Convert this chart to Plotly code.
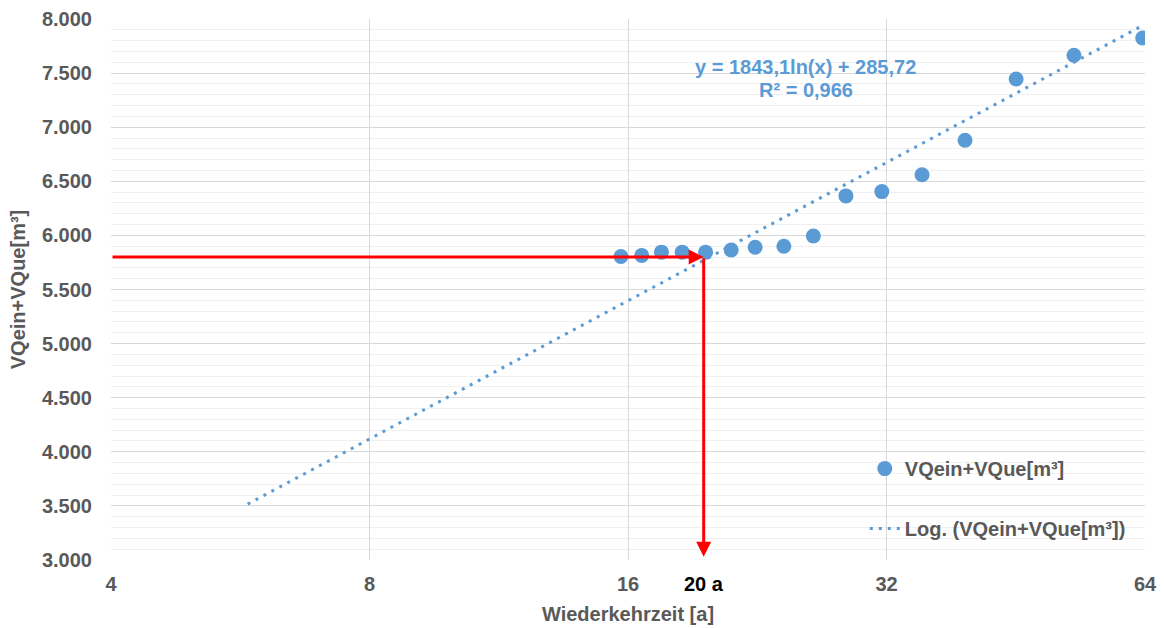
import math
import plotly.graph_objects as go

# ---- data ----
return_period = [15.7, 16.6, 17.5, 18.5, 19.7, 21.1, 22.5, 24.3, 26.3, 28.7, 31.6, 35.2, 39.5, 45.3, 52.9, 63.6]
volume = [5805, 5815, 5845, 5845, 5845, 5865, 5890, 5900, 5995, 6365, 6405, 6560, 6880, 7445, 7665, 7825]

trend_a = 1843.1
trend_b = 285.72
trend_x = [5.77, 63.8]
trend_y = [trend_a * math.log(v) + trend_b for v in trend_x]

x_ticks = [4, 8, 16, 32, 64]
read_x = 19.6       # 20 a
read_y = 5800
y_min, y_max = 3000, 8000

blue = "#5B9BD5"
grey = "#595959"
font = "Liberation Sans, Arial, sans-serif"

fig = go.Figure()
fig.add_trace(go.Scatter(
    x=return_period, y=volume, mode="markers", name="VQein+VQue[m³]",
    marker=dict(color=blue, size=15), legendgroup="a"))
fig.add_trace(go.Scatter(
    x=trend_x, y=trend_y, mode="lines", name="Log. (VQein+VQue[m³])",
    line=dict(color=blue, width=3, dash="3px,6px"), legendgroup="b"))

# red reading arrows
fig.add_annotation(x=math.log10(read_x), y=read_y, ax=math.log10(x_ticks[0]), ay=read_y,
                   xref="x", yref="y", axref="x", ayref="y", text="", showarrow=True,
                   arrowhead=2, arrowsize=1, arrowwidth=3, arrowcolor="#FF0000", standoff=0)
fig.add_annotation(x=math.log10(read_x), y=3030, ax=math.log10(read_x), ay=read_y,
                   xref="x", yref="y", axref="x", ayref="y", text="", showarrow=True,
                   arrowhead=2, arrowsize=1, arrowwidth=3, arrowcolor="#FF0000", standoff=0)
fig.add_annotation(x=math.log10(read_x), y=-0.044, xref="x", yref="paper", text="<b>20 a</b>",
                   showarrow=False, font=dict(family=font, size=20, color="#000000"),
                   xanchor="center", yanchor="middle")

# trend equation
fig.add_annotation(x=0.672, y=0.911, xref="paper", yref="paper",
                   text="<b>y = 1843,1ln(x) + 285,72</b>", showarrow=False,
                   font=dict(family=font, size=20, color=blue), xanchor="center", yanchor="middle")
fig.add_annotation(x=0.672, y=0.869, xref="paper", yref="paper",
                   text="<b>R² = 0,966</b>", showarrow=False,
                   font=dict(family=font, size=20, color=blue), xanchor="center", yanchor="middle")

fig.update_layout(
    width=1164, height=628,
    margin=dict(l=111, r=19, t=19, b=68),
    paper_bgcolor="white", plot_bgcolor="white",
    separators=",.",
    font=dict(family=font, size=20, color=grey),
    showlegend=True,
    legend=dict(x=0.729, y=0.205, xanchor="left", yanchor="top",
                bgcolor="rgba(0,0,0,0)", traceorder="grouped", tracegroupgap=31,
                font=dict(family=font, size=20, color=grey, weight="bold")),
    xaxis=dict(type="log", range=[math.log10(4), math.log10(64)], automargin=False,
               tickvals=x_ticks, ticktext=[f"<b>{v}</b>" for v in x_ticks],
               showgrid=True, gridcolor="#D9D9D9", gridwidth=1,
               zeroline=False, showline=False, ticks="", ticklabelstandoff=10,
               tickfont=dict(family=font, size=20, color=grey),
               title=dict(text="<b>Wiederkehrzeit [a]</b>", standoff=12,
                          font=dict(family=font, size=20, color=grey))),
    yaxis=dict(range=[y_min, y_max], dtick=500, tickformat=",d", automargin=False,
               showgrid=True, gridcolor="#D9D9D9", gridwidth=1,
               minor=dict(dtick=100, showgrid=True, gridcolor="#F0F0F0", gridwidth=1),
               zeroline=False, showline=False, ticks="", ticklabelstandoff=18,
               tickfont=dict(family=font, size=20, color=grey, weight="bold"),
               title=dict(text="<b>VQein+VQue[m³]</b>", standoff=10,
                          font=dict(family=font, size=20, color=grey))),
)

fig.write_html("out.html")
